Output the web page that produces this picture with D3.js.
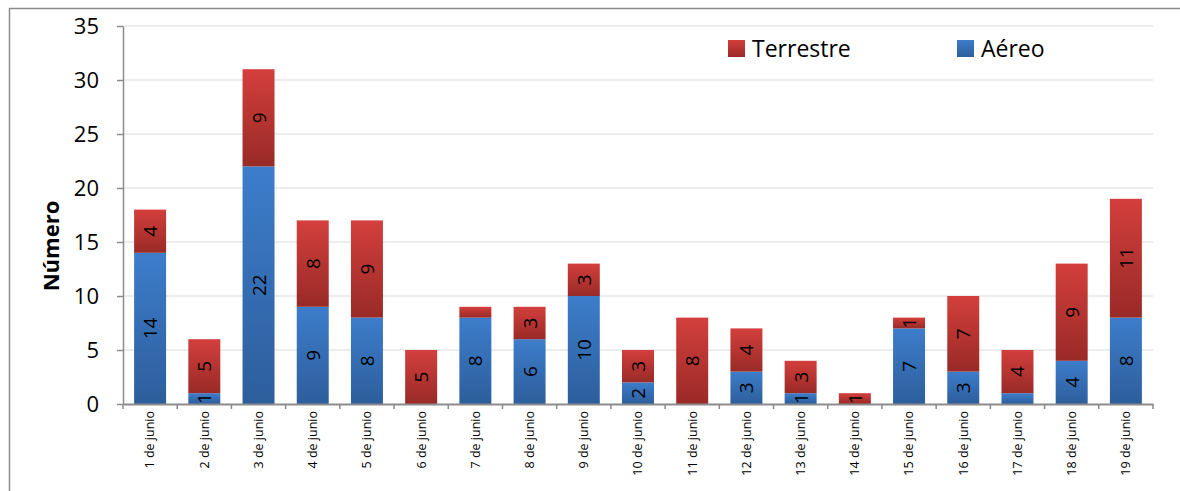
<!DOCTYPE html>
<html><head><meta charset="utf-8">
<script src="https://cdn.jsdelivr.net/npm/d3@7"></script>
<style>body{margin:0;background:#fff}svg{display:block}</style>
</head><body>
<script>
const categories = ["1 de junio","2 de junio","3 de junio","4 de junio","5 de junio","6 de junio","7 de junio","8 de junio","9 de junio","10 de junio","11 de junio","12 de junio","13 de junio","14 de junio","15 de junio","16 de junio","17 de junio","18 de junio","19 de junio"];
const aereo = [14,1,22,9,8,0,8,6,10,2,0,3,1,0,7,3,1,4,8];
const terrestre = [4,5,9,8,9,5,1,3,3,3,8,4,3,1,1,7,4,9,11];
const hiddenLabels = [["Terrestre","7 de junio"],["Aéreo","17 de junio"]];
const yTicks = [0,5,10,15,20,25,30,35];
const seriesNames = ["Aéreo","Terrestre"];

const W=1180,H=491;
const m={left:123,right:1153,top:26,bottom:404};
const svg=d3.select("body").append("svg").attr("width",W).attr("height",H);
const defs=svg.append("defs");
function grad(id,top,bot){const g=defs.append("linearGradient").attr("id",id).attr("x1",0).attr("y1",0).attr("x2",0).attr("y2",1);
g.append("stop").attr("offset","0%").attr("stop-color",top);g.append("stop").attr("offset","100%").attr("stop-color",bot);}
grad("gBlue","#3d7dcb","#2d5e9c");
grad("gRed","#d33f3c","#992a27");
const fills={"Aéreo":"url(#gBlue)","Terrestre":"url(#gRed)"};

// frame
svg.append("path").attr("d",`M9.5,${H} V8.5 H${W}`).attr("fill","none").attr("stroke","#8c8c8c").attr("stroke-width",1.5);

const x=d3.scaleBand().domain(categories).range([m.left,m.right]).paddingInner(0.41).paddingOuter(0.205);
const y=d3.scaleLinear().domain([0,35]).range([m.bottom,m.top]);

// grid
svg.append("g").selectAll("line").data(yTicks.slice(1)).join("line")
 .attr("x1",m.left).attr("x2",m.right).attr("y1",d=>y(d)).attr("y2",d=>y(d))
 .attr("stroke","#e6e6e6").attr("stroke-width",1.5);

const rows=categories.map((c,i)=>({cat:c,"Aéreo":aereo[i],"Terrestre":terrestre[i]}));
const stack=d3.stack().keys(seriesNames)(rows);

const g=svg.append("g");
stack.forEach(s=>{
  g.append("g").selectAll("rect").data(s).join("rect")
   .attr("x",d=>x(d.data.cat)).attr("width",x.bandwidth())
   .attr("y",d=>y(d[1])).attr("height",d=>y(d[0])-y(d[1]))
   .attr("fill",fills[s.key]);
});
// labels
stack.forEach(s=>{
  g.append("g").selectAll("text").data(s.filter(d=>(d[1]-d[0])>0 && !hiddenLabels.some(h=>h[0]===s.key&&h[1]===d.data.cat))).join("text")
   .attr("transform",d=>`translate(${x(d.data.cat)+x.bandwidth()/2+7},${(y(d[0])+y(d[1]))/2}) rotate(-90)`)
   .attr("text-anchor","middle").attr("font-family","Open Sans, sans-serif").attr("font-size",19).attr("fill","#000")
   .text(d=>d[1]-d[0]);
});

// y axis
const ya=svg.append("g").attr("transform",`translate(${m.left},0)`)
 .call(d3.axisLeft(y).tickValues(yTicks).tickSize(6).tickSizeOuter(0));
ya.select(".domain").attr("stroke","#8c8c8c").attr("stroke-width",1.5);
ya.selectAll(".tick line").attr("stroke","#8c8c8c").attr("stroke-width",1.5);
ya.selectAll("text").attr("font-family","Open Sans, sans-serif").attr("font-size",22).attr("fill","#000").attr("x",-24);

// x axis
const xa=svg.append("g").attr("transform",`translate(0,${m.bottom})`)
 .call(d3.axisBottom(x).tickSize(0).tickSizeOuter(0));
xa.select(".domain").attr("stroke","#8c8c8c").attr("stroke-width",2);
xa.selectAll(".tick text").attr("font-family","Open Sans, sans-serif").attr("font-size",12.5).attr("fill","#000")
 .attr("transform","rotate(-90)").attr("text-anchor","end").attr("x",-7).attr("y",0).attr("dy","0.35em");
// boundary ticks
const bounds=d3.range(categories.length+1).map(i=>m.left+i*(m.right-m.left)/categories.length);
svg.append("g").selectAll("line").data(bounds).join("line")
 .attr("x1",d=>d).attr("x2",d=>d).attr("y1",m.bottom).attr("y2",m.bottom+5)
 .attr("stroke","#8c8c8c").attr("stroke-width",1.5);

// y title
svg.append("text").attr("transform",`translate(59,${(m.top+m.bottom)/2+31}) rotate(-90)`)
 .attr("text-anchor","middle").attr("font-family","Open Sans, sans-serif").attr("font-weight","bold").attr("font-size",22).text("Número");

// legend
const legend=[{name:"Terrestre",x:728},{name:"Aéreo",x:957}];
const lg=svg.append("g").selectAll("g").data(legend).join("g").attr("transform",d=>`translate(${d.x},40)`);
lg.append("rect").attr("width",17).attr("height",17).attr("fill",d=>fills[d.name]);
lg.append("text").attr("x",24).attr("y",17).attr("font-family","Open Sans, sans-serif").attr("font-size",23).text(d=>d.name);
</script>
</body></html>
